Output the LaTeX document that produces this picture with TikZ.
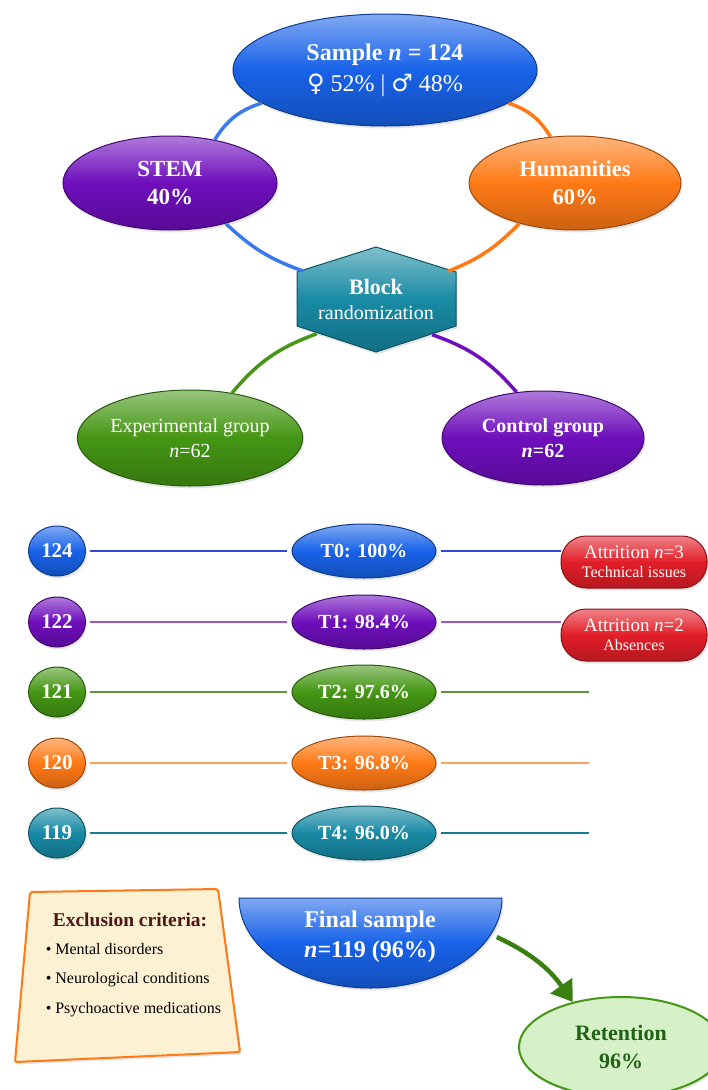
\documentclass[tikz,border=0pt]{standalone}
\usepackage{fontspec}
\setmainfont{Liberation Serif}
\newfontfamily\simbolos{DejaVu Sans}
\usetikzlibrary{shapes.geometric,arrows.meta,shadows}

\definecolor{azul}{RGB}{24,98,232}
\definecolor{roxo}{RGB}{110,14,188}
\definecolor{laranja}{RGB}{255,122,22}
\definecolor{verde}{RGB}{68,150,20}
\definecolor{petroleo}{RGB}{24,138,164}
\definecolor{vermelho}{RGB}{226,30,40}
\definecolor{creme}{RGB}{253,241,212}
\definecolor{vinho}{RGB}{78,22,24}
\definecolor{verdeclaro}{RGB}{214,240,200}
\definecolor{verdeescuro}{RGB}{34,98,22}

\begin{document}
\begin{tikzpicture}[x=1pt,y=1pt,line width=1.5pt,
  sombra/.style={drop shadow={opacity=0.2,shadow xshift=1.5pt,shadow yshift=-2.5pt}},
  cheio/.style={draw=#1!60!black,top color=#1!55!white,bottom color=#1!80!black,middle color=#1,sombra},
  bolha/.style={cheio=#1,ellipse,inner sep=0pt,align=center,text=white,line width=1pt},
  fio/.style={#1,line width=3.5pt},
  linha/.style={#1,line width=1.5pt,shorten <=4pt},
  circulo/.style={minimum width=57pt,minimum height=50pt,font=\fontsize{21pt}{21pt}\selectfont\bfseries},
  tempo/.style={minimum width=144pt,minimum height=54pt,font=\fontsize{20pt}{20pt}\selectfont\bfseries},
  atrito/.style={cheio=vermelho,rectangle,rounded corners=25pt,minimum width=146pt,minimum height=52pt,
    align=center,text=white,inner sep=0pt,line width=1pt,font=\fontsize{16pt}{18.5pt}\selectfont}]
  \useasboundingbox (0,0) rectangle (708,-1090);
  \clip (0,0) rectangle (708,-1090);

  %amostra e areas
  \node[bolha=azul,minimum width=304pt,minimum height=112pt,font=\fontsize{24pt}{31pt}\selectfont] (amostra) at (385,-70)
    {{\bfseries Sample \textit{n} = 124}\\ {\simbolos ♀} 52\% | {\simbolos ♂} 48\%};
  \node[bolha=roxo,minimum width=214pt,minimum height=94pt,font=\fontsize{23pt}{28pt}\selectfont\bfseries] (stem) at (170,-183) {STEM\\40\%};
  \node[bolha=laranja,minimum width=212pt,minimum height=94pt,font=\fontsize{22.5pt}{28pt}\selectfont\bfseries] (hum) at (575,-183) {Humanities\\60\%};

  %randomizacao
  \coordinate (h1) at (376,-247);
  \coordinate (h2) at (456,-272);
  \coordinate (h3) at (456,-326);
  \coordinate (h4) at (376,-352);
  \coordinate (h5) at (297,-326);
  \coordinate (h6) at (297,-272);
  \path[cheio=petroleo,line width=1pt] (h1) -- (h2) -- (h3) -- (h4) -- (h5) -- (h6) -- cycle;
  \node[minimum width=159pt,minimum height=54pt,align=center,text=white,font=\fontsize{20pt}{25pt}\selectfont] (bloco) at (376,-299)
    {{\fontsize{22pt}{25pt}\selectfont\bfseries Block}\\randomization};

  %grupos
  \node[bolha=verde,minimum width=220pt,minimum height=96pt,font=\fontsize{20pt}{25pt}\selectfont] (exp) at (190,-438) {Experimental group\\\textit{n}=62};
  \node[bolha=roxo,minimum width=202pt,minimum height=94pt,font=\fontsize{20pt}{25pt}\selectfont\bfseries] (ctrl) at (543,-438) {Control group\\\textit{n}=62};

  \draw[fio=azul!85!white] (amostra.195) to[bend right=20] (stem.44);
  \draw[fio=laranja] (amostra.345) to[bend left=20] (hum.118);
  \draw[fio=azul!85!white] (stem.-36) to[bend right=12] ([xshift=8pt]bloco.north west);
  \draw[fio=laranja] (hum.216) to[bend left=12] ([xshift=-8pt]bloco.north east);
  \draw[fio=verde] ([xshift=21pt,yshift=-7pt]bloco.south west) to[bend right=15] (exp.47);
  \draw[fio=roxo] ([xshift=-24pt,yshift=-8pt]bloco.south east) to[bend left=15] (ctrl.120);

  %linha do tempo
  \node[bolha=azul,circulo] (n0) at (57,-551) {124};
  \node[bolha=roxo,circulo] (n1) at (57,-622) {122};
  \node[bolha=verde,circulo] (n2) at (57,-692) {121};
  \node[bolha=laranja,circulo] (n3) at (57,-763) {120};
  \node[bolha=petroleo,circulo] (n4) at (57,-833) {119};

  \node[bolha=azul,tempo] (t0) at (364,-551) {T0: 100\%};
  \node[bolha=roxo,tempo] (t1) at (364,-622) {T1: 98.4\%};
  \node[bolha=verde,tempo] (t2) at (364,-692) {T2: 97.6\%};
  \node[bolha=laranja,tempo] (t3) at (364,-763) {T3: 96.8\%};
  \node[bolha=petroleo,tempo] (t4) at (364,-833) {T4: 96.0\%};

  \node[atrito] (at1) at (634,-562) {{\fontsize{19pt}{18.5pt}\selectfont Attrition \textit{n}=3}\\Technical issues};
  \node[atrito] (at2) at (634,-635) {{\fontsize{19pt}{18.5pt}\selectfont Attrition \textit{n}=2}\\Absences};

  \coordinate (v2) at (589,-692);
  \coordinate (v3) at (589,-763);
  \coordinate (v4) at (589,-833);

  \draw[linha=azul!70!roxo,shorten >=5pt] (n0) -- (t0);
  \draw[linha=roxo!70!white,shorten >=5pt] (n1) -- (t1);
  \draw[linha=verde!80!black!80!white,shorten >=5pt] (n2) -- (t2);
  \draw[linha=laranja!70!white,shorten >=5pt] (n3) -- (t3);
  \draw[linha=petroleo!90!black,shorten >=5pt] (n4) -- (t4);
  \draw[linha=azul!70!roxo] (t0) -- (t0 -| at1.west);
  \draw[linha=roxo!70!white] (t1) -- (t1 -| at2.west);
  \draw[linha=verde!80!black!80!white] (t2) -- (v2);
  \draw[linha=laranja!70!white] (t3) -- (v3);
  \draw[linha=petroleo!90!black] (t4) -- (v4);

  %criterios de exclusao
  \filldraw[fill=creme,draw=laranja,line width=2pt,rounded corners=2pt,sombra] (30,-892) -- (218,-889) -- (240,-1052) -- (15,-1062) -- cycle;
  \node[text=vinho,font=\fontsize{19.5pt}{20pt}\selectfont\bfseries] (excl) at (130,-920) {Exclusion criteria:};
  \node[anchor=west,align=left,inner sep=0pt,font=\fontsize{16pt}{29.5pt}\selectfont] (lista) at (45,-980)
    {\textbullet\ Mental disorders\\\textbullet\ Neurological conditions\\\textbullet\ Psychoactive medications};

  %amostra final
  \path[cheio=azul,line width=1pt] (239,-898) arc[start angle=180,end angle=360,x radius=131.5,y radius=90] -- cycle;
  \node[minimum width=252pt,align=center,text=white,font=\fontsize{24pt}{30pt}\selectfont\bfseries] (final) at (370,-937)
    {Final sample\\\textit{n}=119 (96\%)};
  \node[ellipse,draw=verde,line width=2pt,fill=verdeclaro,sombra,minimum width=204pt,minimum height=100pt,inner sep=0pt,
    align=center,text=verdeescuro,font=\fontsize{22pt}{28pt}\selectfont\bfseries] (ret) at (621,-1047) {Retention\\96\%};
  \draw[verde!85!black,line width=4.5pt,-{Triangle[length=20pt,width=26pt]}] (final.east) to[out=-25,in=125] (ret.137);

\end{tikzpicture}
\end{document}
